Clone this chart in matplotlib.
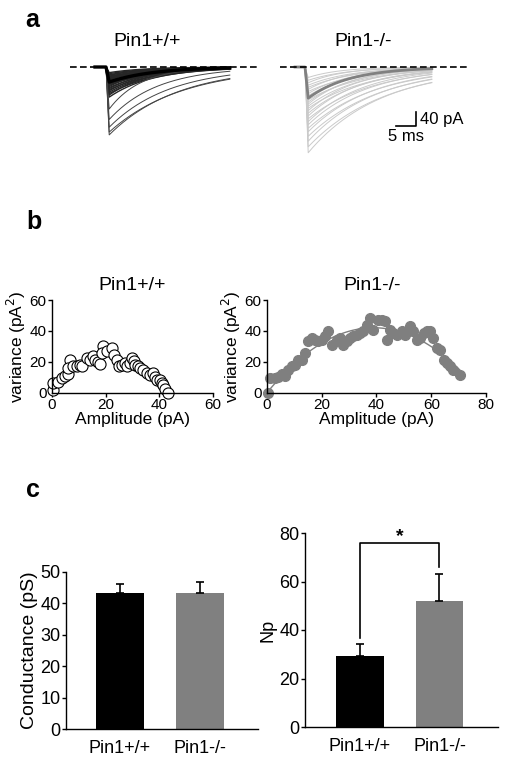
import numpy as np
import matplotlib
matplotlib.use("Agg")
import matplotlib.pyplot as plt

plt.rcParams['font.family'] = ['Liberation Sans', 'DejaVu Sans']

# ---- data ----
groups = ["Pin1+/+", "Pin1-/-"]

# panel a: individual mEPSC traces (peak amplitude in pA, decay tau in ms)
wt_amps = [16, 19, 22, 24, 26, 28, 30, 32, 34, 36, 38, 40, 42, 44, 46, 48, 50, 53, 56, 59, 62,
           65, 68, 72, 76, 80, 86, 120, 150, 172, 186, 194]
wt_taus = [9, 10, 11, 9, 12, 10, 11, 13, 9, 10, 12, 11, 10, 9, 12, 11, 13, 10, 9, 11, 10, 12,
           10, 11, 12, 10, 11, 8, 12, 15, 18, 17]
wt_mean = (43, 11)
ko_amps = [30, 38, 45, 52, 58, 64, 70, 76, 82, 88, 94, 100, 106, 112, 118, 125, 132, 140, 148,
           156, 165, 175, 185, 198, 212, 228, 245]
ko_taus = [8, 10, 9, 11, 12, 10, 13, 11, 12, 10, 14, 12, 11, 13, 15, 12, 14, 13, 16, 14, 15,
           17, 16, 18, 17, 19, 18]
ko_mean = (89, 10.5)

# panel b: variance vs amplitude
wt_amp = [0.5, 0.5, 2.4, 3.6, 4.8, 6.0, 6.7, 6.0, 7.9, 9.2, 10.4, 11.0, 12.9, 14.0, 15.3, 16.0,
          17.2, 17.8, 18.9, 18.5, 20.5, 22.3, 23.0, 24.2, 24.8, 26.0, 27.3, 28.0, 29.2, 29.8,
          30.5, 31.0, 32.2, 32.8, 34.0, 35.4, 36.6, 37.8, 38.4, 39.0, 40.3, 40.9, 41.5, 42.1, 43.4]
wt_var = [1.5, 6.5, 7.2, 9.4, 11.0, 12.0, 21.3, 15.9, 17.0, 17.0, 18.0, 17.0, 22.4, 21.0, 24.0,
          21.0, 19.6, 18.5, 30.0, 25.6, 27.0, 29.0, 24.5, 21.0, 17.0, 18.0, 19.0, 17.0, 19.0,
          22.6, 20.3, 18.0, 17.0, 15.9, 14.8, 12.6, 11.5, 12.6, 10.4, 8.2, 8.2, 6.0, 5.0, 2.5, 0.0]
ko_amp = [0.5, 1.1, 2.9, 4.1, 5.3, 6.6, 7.8, 9.0, 10.2, 11.4, 12.7, 13.9, 15.1, 16.3, 17.5, 18.8,
          20.0, 21.2, 22.4, 23.6, 25.4, 26.7, 27.9, 29.1, 30.3, 31.5, 32.8, 34.0, 35.2, 36.4,
          37.6, 38.8, 40.7, 41.9, 43.1, 43.7, 44.9, 46.2, 47.4, 49.2, 50.4, 52.2, 53.5, 54.7,
          55.9, 57.2, 58.4, 59.6, 60.8, 62.0, 63.2, 64.5, 65.7, 66.9, 68.1, 70.5]
ko_var = [0.0, 9.4, 9.4, 10.4, 12.2, 10.9, 14.8, 17.0, 18.0, 21.3, 21.3, 25.7, 33.3, 35.5, 34.4,
          33.3, 34.4, 36.5, 39.8, 31.1, 34.4, 35.5, 31.1, 33.3, 35.5, 36.5, 37.6, 38.7, 39.8,
          44.1, 48.4, 40.8, 47.3, 47.3, 46.2, 34.4, 40.8, 38.7, 37.6, 39.8, 37.6, 43.0, 39.8,
          34.4, 35.5, 38.7, 39.8, 39.8, 35.5, 29.0, 27.9, 21.3, 19.1, 17.0, 14.8, 11.5]
ko_fit_i, ko_fit_n, ko_fit_max = 2.155, 36.2, 72.3

# panel c
cond_mean = [43.2, 43.4]
cond_err = [3.0, 3.3]
np_mean = [29.3, 52.1]
np_err = [5.1, 11.0]

W, H = 506, 762


def rect(x0, y0, x1, y1):
    # pixel box measured from the top-left -> figure fraction
    return [x0 / W, 1 - y1 / H, (x1 - x0) / W, (y1 - y0) / H]


def epsc(t, onset, amp, tau, rise=0.8):
    s = np.clip((t - onset) / rise, 0, 1)
    return -amp * s * np.exp(-np.clip(t - onset - rise, 0, None) / tau)


fig = plt.figure(figsize=(W / 100, H / 100), dpi=100)

# ---------------- panel a ----------------
ax = fig.add_axes(rect(60, 50, 480, 170))
ax.axis('off')
ax.set_xlim(0, 105)
ax.set_ylim(-294.3, 48.6)

t1 = np.arange(8.75, 42.5, 0.05)
for a, tau in zip(wt_amps, wt_taus):
    big = a > 100
    ax.plot(t1, epsc(t1, 11.5, a, tau), color='#444444' if big else '#262626',
            lw=0.7 if big else 1.0)
ax.plot(t1, epsc(t1, 11.5, *wt_mean), color='black', lw=2.4)

t2 = np.arange(58.75, 93, 0.05)
for a, tau in zip(ko_amps, ko_taus):
    ax.plot(t2, epsc(t2, 61.25, a, tau), color='#cacaca', lw=0.7)
ax.plot(t2, epsc(t2, 61.25, *ko_mean), color='#808080', lw=2)

ax.plot([2.5, 50], [0, 0], color='black', lw=1.2, dashes=(4, 2), zorder=5)
ax.plot([55, 102], [0, 0], color='black', lw=1.2, dashes=(4, 2), zorder=5)

# scale bar 5 ms / 40 pA
ax.plot([84, 89, 89], [-168.6, -168.6, -128.6], color='black', lw=1.2)
ax.text(90, -150, '40 pA', fontsize=12, va='center', ha='left')
ax.text(86.5, -178, '5 ms', fontsize=12, va='top', ha='center')

fig.text(147.5 / W, 1 - 41 / H, groups[0], fontsize=14, ha='center', va='center')
fig.text(363 / W, 1 - 41 / H, groups[1], fontsize=14, ha='center', va='center')

# ---------------- panel b ----------------
def style_axes(a):
    a.spines['top'].set_visible(False)
    a.spines['right'].set_visible(False)
    a.spines['left'].set_linewidth(1)
    a.spines['bottom'].set_linewidth(1)
    a.tick_params(direction='out', length=3, width=1, labelsize=11, pad=1)


axl = fig.add_axes(rect(52, 300, 213, 392.7))
axl.plot(wt_amp, wt_var, 'o', mfc='white', mec='black', ms=8, mew=0.8, clip_on=False)
axl.set_xlim(0, 60)
axl.set_ylim(0, 60)
axl.set_xticks([0, 20, 40, 60])
axl.set_yticks([0, 20, 40, 60])
style_axes(axl)
axl.set_xlabel('Amplitude (pA)', fontsize=12.5, labelpad=0)
axl.set_ylabel('variance (pA$^2$)', fontsize=12.5, labelpad=1)

axr = fig.add_axes(rect(267, 300, 486, 392.7))
xf = np.linspace(0, ko_fit_max, 100)
axr.plot(xf, ko_fit_i * xf - xf ** 2 / ko_fit_n, color='#7f7f7f', lw=1)
axr.plot(ko_amp, ko_var, 'o', color='#7f7f7f', ms=7, clip_on=False)
axr.set_xlim(0, 80)
axr.set_ylim(0, 60)
axr.set_xticks([0, 20, 40, 60, 80])
axr.set_yticks([0, 20, 40, 60])
style_axes(axr)
axr.set_xlabel('Amplitude (pA)', fontsize=12.5, labelpad=0)
axr.set_ylabel('variance (pA$^2$)', fontsize=12.5, labelpad=1)

fig.text(132 / W, 1 - 285 / H, groups[0], fontsize=14, ha='center', va='center')
fig.text(372.5 / W, 1 - 285 / H, groups[1], fontsize=14, ha='center', va='center')

# ---------------- panel c ----------------
colors = ['black', '#808080']
x = np.arange(2)

axc1 = fig.add_axes(rect(66, 572, 258, 729))
axc1.bar(x, cond_mean, width=0.6, color=colors)
axc1.errorbar(x, cond_mean, yerr=[[0, 0], cond_err], fmt='none', ecolor='black',
              elinewidth=1.2, capsize=3, capthick=1.2)
axc1.set_xlim(-0.675, 1.725)
axc1.set_ylim(0, 50)
axc1.set_yticks(range(0, 51, 10))
axc1.set_xticks(x)
axc1.set_xticklabels(groups)
style_axes(axc1)
axc1.tick_params(labelsize=13)
axc1.tick_params(axis='x', length=0, pad=8)
axc1.set_ylabel('Conductance (pS)', fontsize=14, labelpad=2)

axc2 = fig.add_axes(rect(305, 533, 498, 727))
axc2.bar(x, np_mean, width=0.6, color=colors)
axc2.errorbar(x, np_mean, yerr=[[0, 0], np_err], fmt='none', ecolor='black',
              elinewidth=1.2, capsize=3, capthick=1.2)
axc2.plot([0, 0, 1, 1], [36.7, 76, 76, 66], color='black', lw=1.2)
axc2.text(0.5, 78.5, '*', fontsize=14, fontweight='bold', ha='center', va='center')
axc2.set_xlim(-0.69, 1.736)
axc2.set_ylim(0, 80)
axc2.set_yticks(range(0, 81, 20))
axc2.set_xticks(x)
axc2.set_xticklabels(groups)
style_axes(axc2)
axc2.tick_params(labelsize=13)
axc2.tick_params(axis='x', length=0, pad=8)
axc2.set_ylabel('Np', fontsize=13, labelpad=2)

# panel letters
fig.text(25 / W, 1 - 27 / H, 'a', fontsize=18, fontweight='bold', va='baseline')
fig.text(26 / W, 1 - 229 / H, 'b', fontsize=18, fontweight='bold', va='baseline')
fig.text(26 / W, 1 - 497 / H, 'c', fontsize=18, fontweight='bold', va='baseline')

fig.savefig('out.png', dpi=100)
